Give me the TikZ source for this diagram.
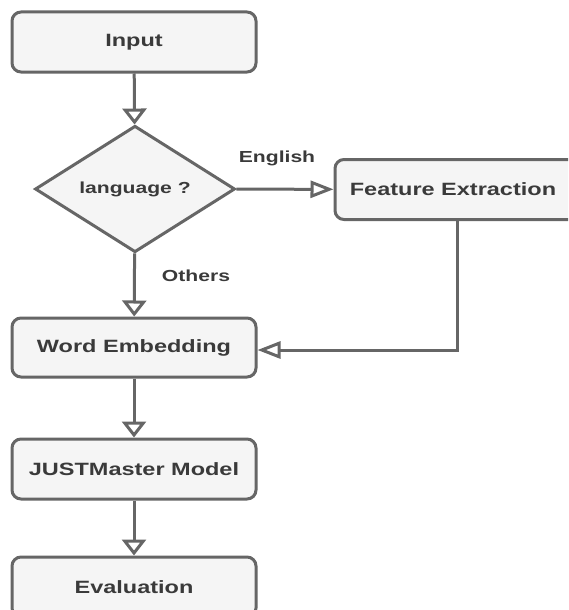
\documentclass[tikz,border=0pt]{standalone}
\usepackage{graphicx}
\usepackage{fontspec}
\setmainfont{Liberation Sans}
\usetikzlibrary{shapes.geometric,arrows.meta}
\definecolor{boxfill}{HTML}{F5F5F5}
\definecolor{boxline}{HTML}{666666}
\definecolor{txt}{HTML}{3A3A3A}
\newcommand{\sx}[1]{\scalebox{1.32}[1]{#1}}
\tikzset{
  flowbox/.style={draw=boxline, fill=boxfill, line width=3pt, rounded corners=9pt,
    minimum width=244pt, minimum height=60pt, inner sep=0pt, text=txt,
    font=\fontsize{17.8pt}{20pt}\selectfont\bfseries},
  decision/.style={draw=boxline, fill=boxfill, line width=3pt, shape=diamond,
    minimum width=200pt, minimum height=118pt, inner sep=0pt, text=txt,
    font=\fontsize{16pt}{18pt}\selectfont\bfseries},
  lbl/.style={text=txt, font=\fontsize{16pt}{18pt}\selectfont\bfseries, inner sep=0pt},
  conn/.style={draw=boxline, line width=3pt},
  varr/.style={conn, -{Triangle[open, length=16pt, width=24pt, fill=white]}},
  harr/.style={conn, -{Triangle[open, length=23pt, width=17pt, fill=white]}},
}
\begin{document}
\begin{tikzpicture}[x=1pt, y=-1pt]
\useasboundingbox (0,0) rectangle (568,610);
\clip (0,0) rectangle (568,610);
\node[flowbox] (input) at (134,42) {\sx{Input}};
\node[decision] (lang) at (135,189) {\sx{language ?}};
\node[flowbox] (fe) at (457,189.5) {\sx{Feature Extraction}\hspace*{8pt}};
\node[flowbox, minimum height=59pt] (we) at (134,347.5) {\sx{Word Embedding}};
\node[flowbox] (jm) at (134,469) {\sx{JUSTMaster Model}};
\node[flowbox] (ev) at (134,587) {\sx{Evaluation}};
\node[lbl] (english) at (277,158) {\sx{English}};
\node[lbl] (others) at (196,276) {\sx{Others}};
\draw[varr] (input) -- (lang);
\draw[harr] (lang) -- (fe);
\draw[varr] (lang) -- (we);
\draw[harr] (fe.south) |- ([yshift=-2.5pt]we.east);
\draw[varr] (we) -- (jm);
\draw[varr] (jm) -- (ev);
\end{tikzpicture}
\end{document}
